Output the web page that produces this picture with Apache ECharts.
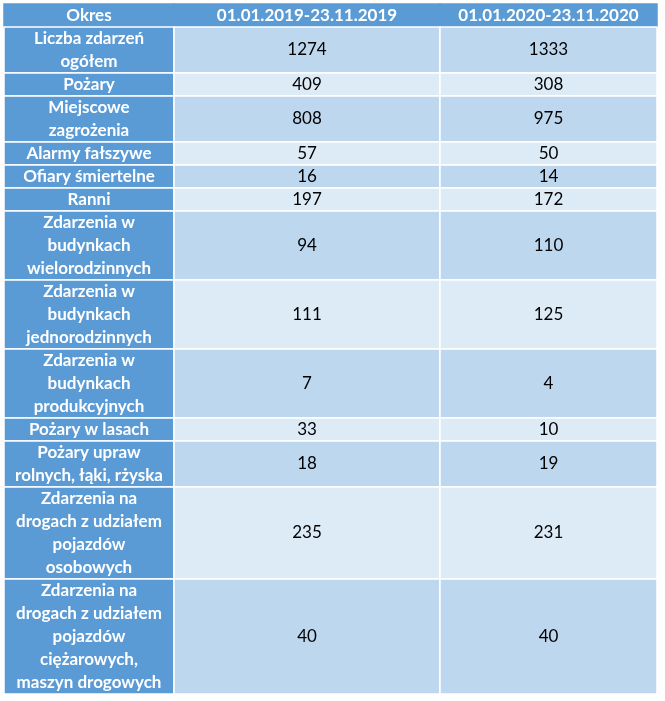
<!DOCTYPE html>
<html>
<head>
<meta charset="utf-8">
<script src="https://cdn.jsdelivr.net/npm/echarts@6/dist/echarts.min.js"></script>
<style>
  html, body { margin: 0; padding: 0; background: #fff; }
  #table { width: 665px; height: 701px; }
</style>
</head>
<body>
<div id="table"></div>
<script>
var headers = ['Okres', '01.01.2019-23.11.2019', '01.01.2020-23.11.2020'];
var rowLabels = [
    'Liczba zdarzeń\nogółem',
    'Pożary',
    'Miejscowe\nzagrożenia',
    'Alarmy fałszywe',
    'Ofiary śmiertelne',
    'Ranni',
    'Zdarzenia w\nbudynkach\nwielorodzinnych',
    'Zdarzenia w\nbudynkach\njednorodzinnych',
    'Zdarzenia w\nbudynkach\nprodukcyjnych',
    'Pożary w lasach',
    'Pożary upraw\nrolnych, łąki, rżyska',
    'Zdarzenia na\ndrogach z udziałem\npojazdów\nosobowych',
    'Zdarzenia na\ndrogach z udziałem\npojazdów\nciężarowych,\nmaszyn drogowych'
];
var values2019 = [1274, 409, 808, 57, 16, 197, 94, 111, 7, 33, 18, 235, 40];
var values2020 = [1333, 308, 975, 50, 14, 172, 110, 125, 4, 10, 19, 231, 40];

// kolumny: krawędzie w px szerokości tabeli
var colEdges = [0, 170, 436, 653];

var cells = [];
var line = 0;
// nagłówek
for (var c = 0; c < 3; c++) {
    cells.push([c, line, line + 1, headers[c], -1]);
}
line += 1;
for (var i = 0; i < rowLabels.length; i++) {
    var n = rowLabels[i].split('\n').length;
    cells.push([0, line, line + n, rowLabels[i], i]);
    cells.push([1, line, line + n, String(values2019[i]), i]);
    cells.push([2, line, line + n, String(values2020[i]), i]);
    line += n;
}
var totalLines = line;

var chart = echarts.init(document.getElementById('table'));

function renderCell(params, api) {
    var col = api.value(0);
    var y0 = api.value(1);
    var y1 = api.value(2);
    var row = api.value(4);
    var p0 = api.coord([colEdges[col], y0]);
    var p1 = api.coord([colEdges[col + 1], y1]);
    var header = row === -1;
    var fill;
    if (header || col === 0) {
        fill = '#5b9bd5';
    } else {
        fill = row % 2 === 0 ? '#bdd7ee' : '#ddebf7';
    }
    var text = cells[params.dataIndex][3];
    return {
        type: 'group',
        children: [{
            type: 'rect',
            shape: { x: p0[0], y: p0[1], width: p1[0] - p0[0], height: p1[1] - p0[1] },
            style: { fill: fill, stroke: header ? fill : '#fff', lineWidth: 1.5 }
        }, {
            type: 'text',
            x: (p0[0] + p1[0]) / 2,
            y: (p0[1] + p1[1]) / 2,
            style: {
                text: text,
                align: 'center',
                verticalAlign: 'middle',
                fontFamily: 'Lato',
                fontSize: 17,
                lineHeight: 23,
                fontWeight: (header || col === 0) ? 'bold' : 'normal',
                fill: (header || col === 0) ? '#fff' : '#000'
            }
        }]
    };
}

chart.setOption({
    animation: false,
    grid: { left: 4, top: 4, width: 653, height: 690 },
    xAxis: { type: 'value', min: 0, max: colEdges[3], show: false },
    yAxis: { type: 'value', min: 0, max: totalLines, inverse: true, show: false },
    series: [{
        type: 'custom',
        renderItem: renderCell,
        data: cells.map(function (d) { return [d[0], d[1], d[2], 0, d[4]]; })
    }]
});
</script>
</body>
</html>
